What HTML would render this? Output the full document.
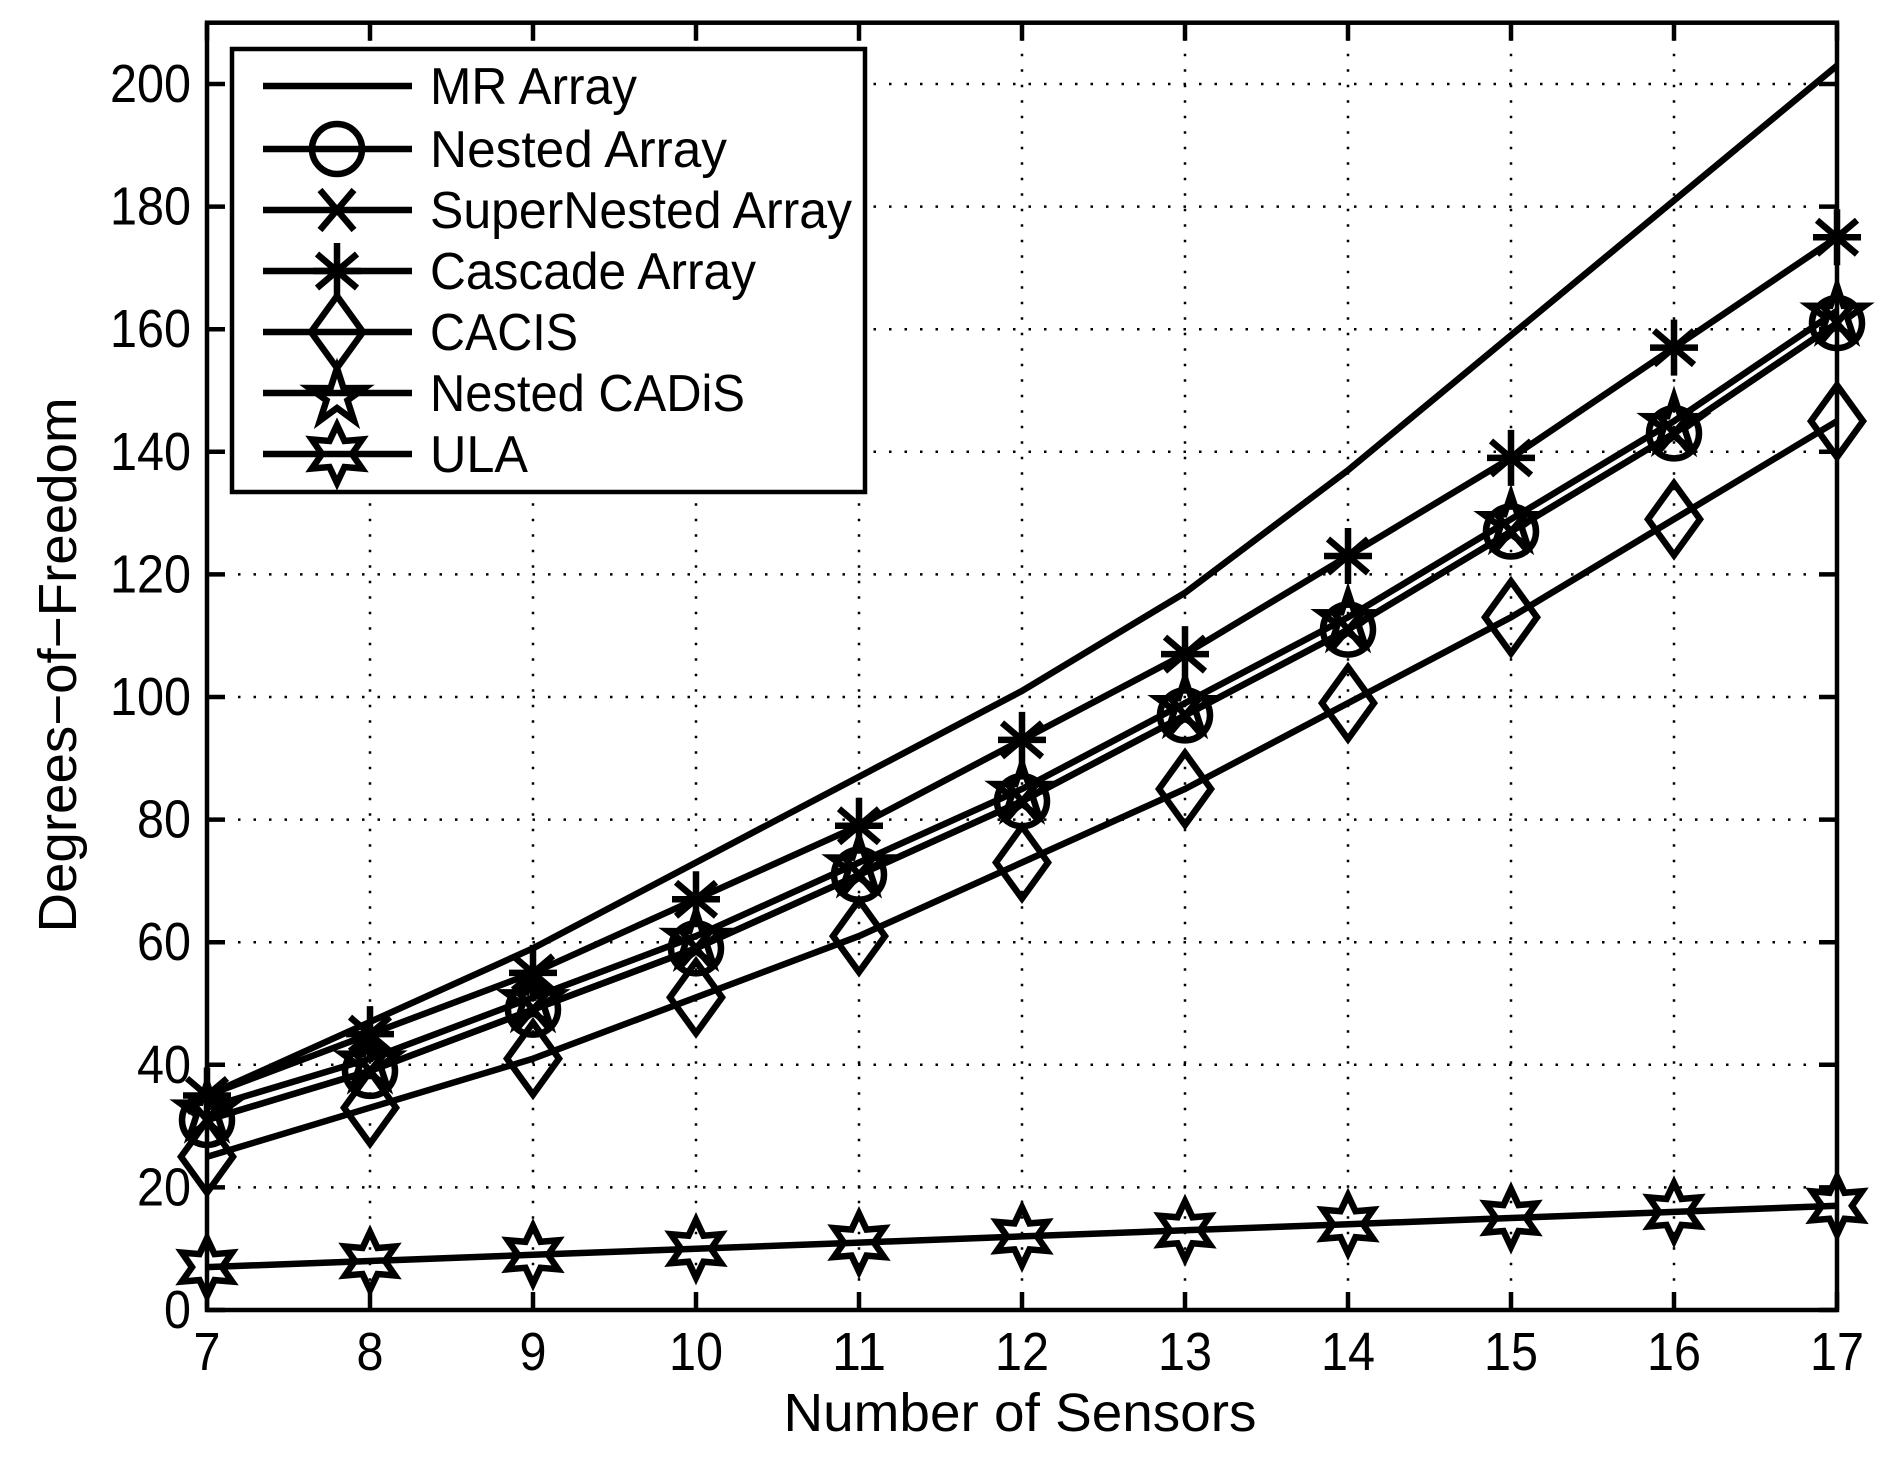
<!DOCTYPE html>
<html><head><meta charset="utf-8"><style>
html,body{margin:0;padding:0;background:#fff;}
svg{display:block;}
text{font-family:"Liberation Sans",Arial,sans-serif;fill:#000;}
</style></head><body>
<svg id="s" width="1886" height="1467" viewBox="0 0 1886 1467" xmlns="http://www.w3.org/2000/svg">
<rect width="1886" height="1467" fill="#fff"/>
<g id="grid" stroke="#000" stroke-width="2.5" stroke-dasharray="2.5,13"></g>
<g id="series" fill="none" stroke="#000" stroke-width="6.5" stroke-linejoin="miter"></g>
<g id="axes"></g>
<g id="legend"></g>
<text x="1020" y="1431" font-size="54" text-anchor="middle" textLength="473" lengthAdjust="spacingAndGlyphs">Number of Sensors</text>
<text transform="translate(76,665) rotate(-90)" font-size="54" text-anchor="middle" textLength="535" lengthAdjust="spacingAndGlyphs">Degrees−of−Freedom</text>
</svg>
<script>
var NS="http://www.w3.org/2000/svg";
function el(p,t,a,txt){var e=document.createElementNS(NS,t);for(var k in a)e.setAttribute(k,a[k]);if(txt!==undefined)e.textContent=txt;p.appendChild(e);return e;}
var X=function(n){return 207+(n-7)*163;}, Y=function(v){return 1310-v*6.13;};
var L=207,R=1837,T=Y(210),B=1310;
var grid=document.getElementById('grid'),axes=document.getElementById('axes'),ser=document.getElementById('series'),leg=document.getElementById('legend');
for(var n=8;n<=16;n++){el(grid,'line',{x1:X(n),y1:T,x2:X(n),y2:B});}
for(var v=20;v<=200;v+=20){el(grid,'line',{x1:L,y1:Y(v),x2:R,y2:Y(v)});}
el(axes,'rect',{x:L,y:T,width:R-L,height:B-T,fill:'none',stroke:'#000','stroke-width':4.5});
for(var n=7;n<=17;n++){
 el(axes,'line',{x1:X(n),y1:B,x2:X(n),y2:B-18,stroke:'#000','stroke-width':4.5});
 el(axes,'line',{x1:X(n),y1:T,x2:X(n),y2:T+18,stroke:'#000','stroke-width':4.5});
 var s=String(n);
 el(axes,'text',{x:X(n),y:1370,'font-size':54,'text-anchor':'middle',textLength:27*s.length,lengthAdjust:'spacingAndGlyphs'},s);
}
for(var v=0;v<=200;v+=20){
 el(axes,'line',{x1:L,y1:Y(v),x2:L+18,y2:Y(v),stroke:'#000','stroke-width':4.5});
 el(axes,'line',{x1:R,y1:Y(v),x2:R-18,y2:Y(v),stroke:'#000','stroke-width':4.5});
 var s=String(v);
 el(axes,'text',{x:191,y:Y(v)+18,'font-size':54,'text-anchor':'end',textLength:27*s.length,lengthAdjust:'spacingAndGlyphs'},s);
}
function marker(g,type,x,y){
 if(type==='o'){el(g,'circle',{cx:x,cy:y,r:25});}
 else if(type==='x'){el(g,'path',{d:'M'+(x-17)+' '+(y-20)+'L'+(x+17)+' '+(y+20)+'M'+(x-17)+' '+(y+20)+'L'+(x+17)+' '+(y-20)});}
 else if(type==='*'){el(g,'path',{d:'M'+x+' '+(y-28)+'V'+(y+28)+'M'+(x-20)+' '+(y-17)+'L'+(x+20)+' '+(y+17)+'M'+(x-20)+' '+(y+17)+'L'+(x+20)+' '+(y-17)+'M'+(x-24)+' '+y+'H'+(x+24)});}
 else if(type==='d'){el(g,'path',{d:'M'+x+' '+(y-36)+'L'+(x+26)+' '+y+'L'+x+' '+(y+36)+'L'+(x-26)+' '+y+'Z'});}
 else if(type==='p'){var pts=[];for(var i=0;i<10;i++){var a=-Math.PI/2+i*Math.PI/5,r=i%2?11:29;pts.push((x+r*Math.cos(a)).toFixed(1)+','+(y+4+r*Math.sin(a)).toFixed(1));}el(g,'polygon',{points:pts.join(' ')});}
 else if(type==='h'){var pts=[];for(var i=0;i<12;i++){var a=-Math.PI/2+i*Math.PI/6,r=i%2?15:29;pts.push((x+r*Math.cos(a)).toFixed(1)+','+(y+r*Math.sin(a)).toFixed(1));}el(g,'polygon',{points:pts.join(' ')});}
}
var data=[
 ['MR Array',null,[35,47,59,73,87,101,117,137,159,181,203],207],
 ['Nested Array','o',[31,39,49,59,71,83,97,111,127,143,161],297],
 ['SuperNested Array','x',[31,39,49,59,71,83,97,111,127,143,161],422],
 ['Cascade Array','*',[35,45,55,67,79,93,107,123,139,157,175],326],
 ['CACIS','d',[25,33,41,51,61,73,85,99,113,129,145],148],
 ['Nested CADiS','p',[33,41,51,61,73,85,99,113,129,145,163],315],
 ['ULA','h',[7,8,9,10,11,12,13,14,15,16,17],98]
];
data.forEach(function(d){
 var g=el(ser,'g',{});
 var p=d[2].map(function(v,i){return X(7+i).toFixed(1)+','+Y(v).toFixed(1);}).join(' ');
 el(g,'polyline',{points:p});
 if(d[1])d[2].forEach(function(v,i){marker(g,d[1],X(7+i),Y(v));});
});
el(leg,'rect',{x:232,y:49,width:633,height:443,fill:'#fff',stroke:'#000','stroke-width':4.5});
var lg=el(leg,'g',{fill:'none',stroke:'#000','stroke-width':6.5});
var rows=[86,149,210,271,332,393,454];
data.forEach(function(d,i){
 var y=rows[i];
 el(lg,'line',{x1:263,y1:y,x2:412,y2:y});
 if(d[1])marker(lg,d[1],337,y);
 el(leg,'text',{x:430,y:y+18,'font-size':52,textLength:d[3],lengthAdjust:'spacingAndGlyphs'},d[0]);
});
</script>
</body></html>
